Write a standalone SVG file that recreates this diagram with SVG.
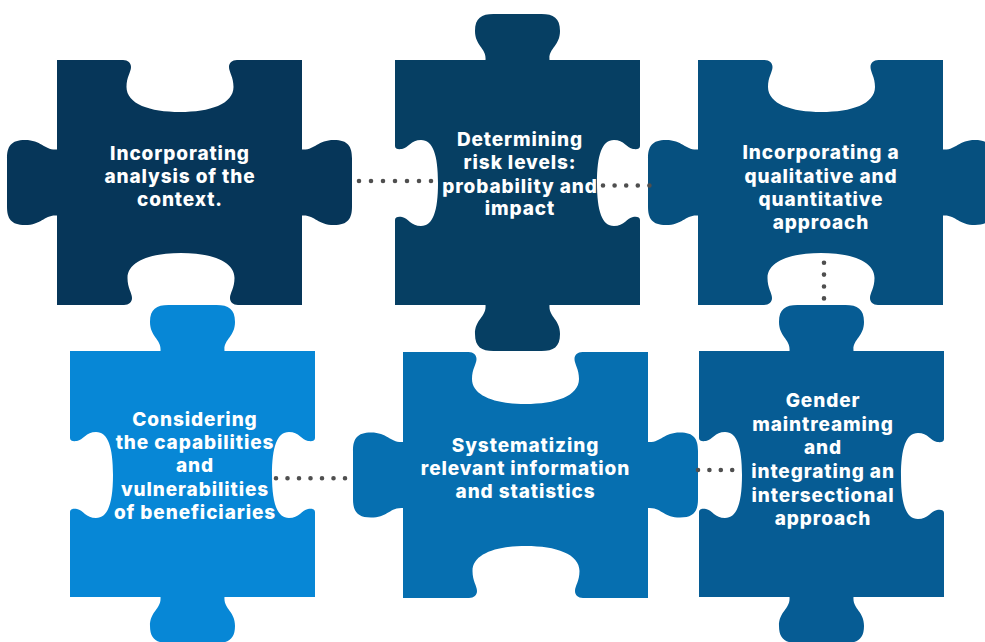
<svg xmlns="http://www.w3.org/2000/svg" width="985" height="642" viewBox="0 0 985 642">
<style>
.lbl{font-family:Inter,"Open Sans","Liberation Sans",sans-serif;font-weight:800;font-size:19px;letter-spacing:0.9px;fill:#ffffff;text-anchor:middle}
.dots{fill:none;stroke:#4f4f4f;stroke-width:4.6;stroke-linecap:round}
</style>
<rect width="985" height="642" fill="#ffffff"/>
<g id="piece1">
<path fill="#063659" d="M57,60 L123,60 c 5,0 8,3 8,7 c 0,5 -4.5,10 -4.5,20 c 0,17 23.5,25 53.5,25 c 30,0 53.5,-8 53.5,-25 c 0,-10 -4.5,-15 -4.5,-20 c 0,-4 3,-7 8,-7 L302,60 L302,149.5 c 13,1 15,-9.5 32,-9.5 c 14,0 18,6.5 18,18.5 l 0,48 c 0,12 -4,18.5 -18,18.5 c -17,0 -19,-10.5 -32,-9.5 L302,305 L238,305 c -5,0 -8,-3 -8,-7 c 0,-5 4.5,-10 4.5,-20 c 0,-17 -23.5,-25 -53.5,-25 c -30,0 -53.5,8 -53.5,25 c 0,10 4.5,15 4.5,20 c 0,4 -3,7 -8,7 L57,305 L57,215.5 c -13,-1 -15,9.5 -32,9.5 c -14,0 -18,-6.5 -18,-18.5 l 0,-48 c 0,-12 4,-18.5 18,-18.5 c 17,0 19,10.5 32,9.5 Z"/>
<text class="lbl" x="180" y="160">Incorporating</text>
<text class="lbl" x="180" y="183">analysis of the</text>
<text class="lbl" x="180" y="206">context.</text>
</g>
<g id="piece2">
<path fill="#063f63" d="M395,60 L485.5,60 c 1,-12 -10.5,-14 -10.5,-29 c 0,-13 6.5,-17 18.5,-17 l 48,0 c 12,0 18.5,4 18.5,17 c 0,15 -11.5,17 -10.5,29 L640,60 L640,146 c 0,3 -3,3.5 -7,3 c -6,-1 -9,-9 -19,-9 c -12,0 -17,15 -17,43 c 0,28 5,43 17,43 c 10,0 13,-8 19,-9 c 4,-0.5 7,0 7,3 L640,305 L549.5,305 c -1,12 10.5,14 10.5,29 c 0,13 -6.5,17 -18.5,17 l -48,0 c -12,0 -18.5,-4 -18.5,-17 c 0,-15 11.5,-17 10.5,-29 L395,305 L395,220 c 0,-3 3,-3.5 7,-3 c 6,1 9,9 19,9 c 12,0 17,-15 17,-43 c 0,-28 -5,-43 -17,-43 c -10,0 -13,8 -19,9 c -4,0.5 -7,0 -7,-3 Z"/>
<text class="lbl" x="520" y="146">Determining</text>
<text class="lbl" x="520" y="169">risk levels:</text>
<text class="lbl" x="520" y="193">probability and</text>
<text class="lbl" x="520" y="215">impact</text>
</g>
<g id="piece3">
<path fill="#06507f" d="M698,60 L764.5,60 c 5,0 8,3 8,7 c 0,5 -4.5,10 -4.5,20 c 0,17 23.5,25 53.5,25 c 30,0 53.5,-8 53.5,-25 c 0,-10 -4.5,-15 -4.5,-20 c 0,-4 3,-7 8,-7 L943,60 L943,149.5 c 13,1 15,-9.5 32,-9.5 c 14,0 18,6.5 18,18.5 l 0,48 c 0,12 -4,18.5 -18,18.5 c -17,0 -19,-10.5 -32,-9.5 L943,305 L878,305 c -5,0 -8,-3 -8,-7 c 0,-5 4.5,-10 4.5,-20 c 0,-17 -23.5,-25 -53.5,-25 c -30,0 -53.5,8 -53.5,25 c 0,10 4.5,15 4.5,20 c 0,4 -3,7 -8,7 L698,305 L698,215.5 c -13,-1 -15,9.5 -32,9.5 c -14,0 -18,-6.5 -18,-18.5 l 0,-48 c 0,-12 4,-18.5 18,-18.5 c 17,0 19,10.5 32,9.5 Z"/>
<text class="lbl" x="821" y="159">Incorporating a</text>
<text class="lbl" x="821" y="183">qualitative and</text>
<text class="lbl" x="821" y="206">quantitative</text>
<text class="lbl" x="821" y="229">approach</text>
</g>
<g id="piece4">
<path fill="#0787d6" d="M70,351 L160.5,351 c 1,-12 -10.5,-14 -10.5,-29 c 0,-13 6.5,-17 18.5,-17 l 48,0 c 12,0 18.5,4 18.5,17 c 0,15 -11.5,17 -10.5,29 L315,351 L315,438 c 0,3 -3,3.5 -7,3 c -6,-1 -9,-9 -19,-9 c -12,0 -17,15 -17,43 c 0,28 5,43 17,43 c 10,0 13,-8 19,-9 c 4,-0.5 7,0 7,3 L315,597 L224.5,597 c -1,12 10.5,14 10.5,29 c 0,13 -6.5,17 -18.5,17 l -48,0 c -12,0 -18.5,-4 -18.5,-17 c 0,-15 11.5,-17 10.5,-29 L70,597 L70,512 c 0,-3 3,-3.5 7,-3 c 6,1 9,9 19,9 c 12,0 17,-15 17,-43 c 0,-28 -5,-43 -17,-43 c -10,0 -13,8 -19,9 c -4,0.5 -7,0 -7,-3 Z"/>
<text class="lbl" x="195" y="426">Considering</text>
<text class="lbl" x="195" y="449">the capabilities</text>
<text class="lbl" x="195" y="472">and</text>
<text class="lbl" x="195" y="496">vulnerabilities</text>
<text class="lbl" x="195" y="519">of beneficiaries</text>
</g>
<g id="piece5">
<path fill="#066fb0" d="M403,352 L468.5,352 c 5,0 8,3 8,7 c 0,5 -4.5,10 -4.5,20 c 0,17 23.5,25 53.5,25 c 30,0 53.5,-8 53.5,-25 c 0,-10 -4.5,-15 -4.5,-20 c 0,-4 3,-7 8,-7 L648,352 L648,442 c 13,1 15,-9.5 32,-9.5 c 14,0 18,6.5 18,18.5 l 0,48 c 0,12 -4,18.5 -18,18.5 c -17,0 -19,-10.5 -32,-9.5 L648,598 L583,598 c -5,0 -8,-3 -8,-7 c 0,-5 4.5,-10 4.5,-20 c 0,-17 -23.5,-25 -53.5,-25 c -30,0 -53.5,8 -53.5,25 c 0,10 4.5,15 4.5,20 c 0,4 -3,7 -8,7 L403,598 L403,508 c -13,-1 -15,9.5 -32,9.5 c -14,0 -18,-6.5 -18,-18.5 l 0,-48 c 0,-12 4,-18.5 18,-18.5 c 17,0 19,10.5 32,9.5 Z"/>
<text class="lbl" x="525.5" y="452">Systematizing</text>
<text class="lbl" x="525.5" y="475">relevant information</text>
<text class="lbl" x="525.5" y="498">and statistics</text>
</g>
<g id="piece6">
<path fill="#065c94" d="M699,351 L789.5,351 c 1,-12 -10.5,-14 -10.5,-29 c 0,-13 6.5,-17 18.5,-17 l 48,0 c 12,0 18.5,4 18.5,17 c 0,15 -11.5,17 -10.5,29 L944,351 L944,439 c 0,3 -3,3.5 -7,3 c -6,-1 -9,-9 -19,-9 c -12,0 -17,15 -17,43 c 0,28 5,43 17,43 c 10,0 13,-8 19,-9 c 4,-0.5 7,0 7,3 L944,597 L853.5,597 c -1,12 10.5,14 10.5,29 c 0,13 -6.5,17 -18.5,17 l -48,0 c -12,0 -18.5,-4 -18.5,-17 c 0,-15 11.5,-17 10.5,-29 L699,597 L699,512 c 0,-3 3,-3.5 7,-3 c 6,1 9,9 19,9 c 12,0 17,-15 17,-43 c 0,-28 -5,-43 -17,-43 c -10,0 -13,8 -19,9 c -4,0.5 -7,0 -7,-3 Z"/>
<text class="lbl" x="823" y="407">Gender</text>
<text class="lbl" x="823" y="431">maintreaming</text>
<text class="lbl" x="823" y="454">and</text>
<text class="lbl" x="823" y="478">integrating an</text>
<text class="lbl" x="823" y="502">intersectional</text>
<text class="lbl" x="823" y="525">approach</text>
</g>
<g id="connectors">
<path class="dots" stroke-dasharray="0 12" d="M359,181 L432,181"/>
<path class="dots" stroke-dasharray="0 11.6" d="M603,185.5 L650,185.5"/>
<path class="dots" stroke-dasharray="0 11.9" d="M824,262.7 L824,299"/>
<path class="dots" stroke-dasharray="0 11.5" d="M276,478.3 L346,478.3"/>
<path class="dots" stroke-dasharray="0 11.4" d="M698,470 L733,470"/>
</g>
</svg>
